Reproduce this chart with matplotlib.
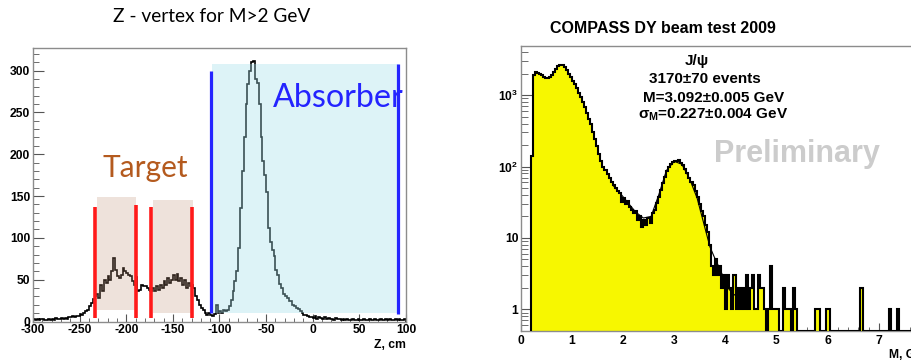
import numpy as np
import matplotlib
matplotlib.use("Agg")
import matplotlib.pyplot as plt
from matplotlib.patches import Rectangle
from matplotlib.ticker import MultipleLocator, FixedLocator, LogLocator, NullFormatter

plt.rcParams["font.family"] = ["Liberation Sans", "DejaVu Sans"]
plt.rcParams["font.weight"] = "bold"
plt.rcParams["axes.unicode_minus"] = False
plt.rcParams["mathtext.fontset"] = "custom"
plt.rcParams["mathtext.rm"] = "Liberation Sans:bold"
plt.rcParams["mathtext.bf"] = "Liberation Sans:bold"
plt.rcParams["mathtext.it"] = "Liberation Sans:bold"
plt.rcParams["mathtext.default"] = "regular"

# -------------------------
# Left panel: Z-vertex, 2 cm bins from -300 to 100
# -------------------------
z_start, z_width = -300, 2
z_counts = [
    3, 2, 3, 2, 3, 3, 2, 2, 3, 2,
    3, 2, 4, 3, 3, 4, 3, 4, 3, 5,
    5, 6, 5, 7, 6, 9, 8, 10, 12, 14,
    18, 22, 27, 30, 33, 28, 44, 36, 50, 46,
    54, 50, 60, 76, 62, 54, 52, 56, 64, 60,
    58, 56, 54, 48, 44, 53, 36, 38, 44, 43,
    42, 40, 38, 36, 40, 36, 42, 38, 44, 40,
    48, 44, 52, 46, 50, 56, 50, 57, 48, 52,
    44, 50, 40, 46, 42, 44, 40, 30, 26, 20,
    16, 14, 10, 8, 10, 8, 7, 9, 20, 10,
    12, 10, 14, 12, 14, 18, 26, 36, 48, 60,
    88, 136, 180, 220, 260, 284, 300, 310, 312, 290,
    285, 260, 220, 192, 175, 155, 112, 95, 85, 78,
    62, 55, 45, 40, 33, 30, 28, 25, 24, 20,
    18, 16, 15, 12, 10, 8, 8, 6, 5, 5,
    4, 6, 3, 5, 4, 3, 5, 3, 4, 3,
    3, 2, 4, 3, 3, 2, 3, 2, 3, 2,
    2, 3, 2, 2, 3, 2, 2, 3, 2, 2,
    3, 2, 2, 3, 2, 2, 3, 2, 2, 3,
    2, 3, 2, 2, 3, 2, 3, 2, 2, 3,
]
z_edges = z_start + z_width * np.arange(len(z_counts) + 1)

target_boxes = [(-231.7, -189.8, 14, 149), (-171, -128, 10, 145)]
target_lines = [(-233, 4, 137), (-189.5, 4, 139), (-173.5, 4, 137), (-130, 4, 137)]
absorber_box = (-108, 92, 10.5, 308)
absorber_lines = [(-109, 10, 300), (91.7, 9, 308)]

# -------------------------
# Right panel: dimuon mass, 0.04 GeV bins from 0.2 to 8.0
# -------------------------
m_start, m_width = 0.2, 0.04
m_counts = [
    140, 1900, 2100, 2050, 1980, 1900, 1820, 1750, 1720, 1780,
    1900, 2100, 2350, 2550, 2640, 2600, 2450, 2250, 2000, 1800,
    1600, 1450, 1250, 1080, 950, 800, 680, 560, 470, 390,
    300, 240, 195, 150, 118, 100, 88, 78, 68, 60,
    55, 50, 45, 42, 32, 36, 30, 33, 27, 25,
    22, 24, 18, 20, 14, 18, 15, 19, 16, 22,
    25, 31, 38, 47, 58, 72, 86, 98, 108, 116,
    120, 118, 122, 112, 104, 92, 82, 70, 60, 55,
    45, 38, 30, 24, 20, 15, 12, 8, 4, 3,
    5, 3, 4, 2, 3, 1, 3, 2, 1, 3,
    1, 2, 1, 2, 1, 3, 1, 2, 3, 1,
    1, 3, 2, 2, 1, 0, 1, 4, 1, 1,
    1, 0, 0, 2, 1, 1, 1, 0, 2, 1,
    0, 0, 0, 0, 0, 0, 0, 0, 0, 1,
    1, 0, 0, 0, 1, 1, 0, 0, 0, 0,
    0, 0, 0, 0, 0, 0, 0, 0, 0, 0,
    0, 2, 0, 0, 0, 0, 0, 0, 0, 0,
    0, 0, 0, 0, 0, 1, 0, 0, 0, 1,
    0, 0, 0, 0, 0, 0, 0, 0, 0, 0,
    0, 0, 0, 0, 0,
]
m_edges = m_start + m_width * np.arange(len(m_counts) + 1)

fit_m = [1.80, 1.95, 2.10, 2.25, 2.40, 2.55, 2.70, 2.85, 3.00, 3.15, 3.30, 3.45,
         3.60, 3.70, 3.78, 3.90, 4.05, 4.15, 4.28]
fit_y = [55, 42, 31, 23, 19, 20, 40, 88, 118, 108, 68, 36,
         14, 7.5, 5.5, 3.6, 2.0, 1.65, 1.43]

W, H = 912, 362
fig = plt.figure(figsize=(W / 100, H / 100), dpi=100)


def px(x, y):
    return x / W, 1 - y / H


def style_axes(ax):
    for s in ax.spines.values():
        s.set_color("#8c8c8c")
        s.set_linewidth(1.0)
    ax.tick_params(which="both", direction="in", top=False, right=False,
                   colors="#555555", labelcolor="black", labelsize=8.7)


# ---- left
axL = fig.add_axes([33 / W, (H - 321.5) / H, 373 / W, (321.5 - 48) / H])
axL.stairs(z_counts, z_edges, color="black", lw=1.2, zorder=2)

x0, x1, y0, y1 = absorber_box
axL.add_patch(Rectangle((x0, y0), x1 - x0, y1 - y0, facecolor=(0.64, 0.88, 0.92),
                        alpha=0.36, lw=0, zorder=3))
for x0, x1, y0, y1 in target_boxes:
    axL.add_patch(Rectangle((x0, y0), x1 - x0, y1 - y0, facecolor=(0.75, 0.56, 0.45),
                            alpha=0.25, lw=0, zorder=3))
for x, y0, y1 in target_lines:
    axL.vlines(x, y0, y1, color="#ff1a1a", lw=2.6, zorder=4)
for x, y0, y1 in absorber_lines:
    axL.vlines(x, y0, y1, color="#2424ff", lw=2.3, zorder=4)

axL.set_xlim(-300, 100)
axL.set_ylim(0, 327)
axL.xaxis.set_major_locator(MultipleLocator(50))
axL.xaxis.set_minor_locator(MultipleLocator(10))
axL.yaxis.set_major_locator(MultipleLocator(50))
axL.yaxis.set_minor_locator(MultipleLocator(10))
axL.tick_params(axis="x", which="major", length=6, pad=2)
axL.tick_params(axis="x", which="minor", length=3)
axL.tick_params(axis="y", which="major", length=8, pad=2)
axL.tick_params(axis="y", which="minor", length=4)
style_axes(axL)

fig.text(*px(406, 348), "Z, cm", ha="right", va="baseline", fontsize=8.7)
axL.text(-180, 173, "Target", ha="center", va="baseline", fontsize=21.5,
         family="Lato", fontweight="normal", color="#b45a1e", zorder=5)
axL.text(-42.5, 257, "Absorber", ha="left", va="baseline", fontsize=23.2,
         family="Lato", fontweight="normal", color="#2424ff", zorder=5)
fig.text(*px(212, 21.7), "Z - vertex for M>2 GeV", ha="center", va="baseline",
         fontsize=13.8, family="Lato", fontweight="normal")

# ---- right
axR = fig.add_axes([520.5 / W, (H - 331) / H, 409.6 / W, (331 - 45.7) / H])
axR.set_yscale("log")
m_plot = np.where(np.array(m_counts) > 0, m_counts, 0.5)
axR.stairs(m_plot, m_edges, baseline=0.5, fill=True, color="#f7f700", lw=0, zorder=2)
axR.stairs(m_plot, m_edges, baseline=0.5, color="black", lw=1.5, zorder=3)
axR.plot(fit_m, fit_y, color="black", lw=0.8, zorder=4)

axR.set_xlim(0, 8)
axR.set_ylim(0.497, 4920)
axR.xaxis.set_major_locator(MultipleLocator(1))
axR.xaxis.set_minor_locator(MultipleLocator(0.2))
axR.yaxis.set_major_locator(FixedLocator([1, 10, 100, 1000]))
axR.yaxis.set_minor_locator(LogLocator(base=10, subs=np.arange(2, 10)))
axR.yaxis.set_minor_formatter(NullFormatter())
axR.set_yticklabels(["1", "10", r"$10^{2}$", r"$10^{3}$"])
axR.tick_params(axis="x", which="major", length=6, pad=3)
axR.tick_params(axis="x", which="minor", length=3)
axR.tick_params(axis="y", which="major", length=10, pad=1.5)
axR.tick_params(axis="y", which="minor", length=5)
style_axes(axR)

fig.text(*px(930, 358), "M, GeV", ha="right", va="baseline", fontsize=8.7)
fig.text(*px(663, 33), "COMPASS DY beam test 2009", ha="center", va="baseline",
         fontsize=11.5)
fig.text(*px(697, 65), "J/ψ", ha="center", va="baseline", fontsize=11)
fig.text(*px(705, 83.3), "3170±70 events", ha="center", va="baseline", fontsize=11)
fig.text(*px(714, 101.7), "M=3.092±0.005 GeV", ha="center", va="baseline", fontsize=11)
fig.text(*px(713, 118.3), r"$\sigma_{M}$=0.227±0.004 GeV", ha="center", va="baseline",
         fontsize=11)
fig.text(*px(797, 161.7), "Preliminary", ha="center", va="baseline", fontsize=22,
         color="#cccccc")

fig.savefig("out.png", dpi=100)
